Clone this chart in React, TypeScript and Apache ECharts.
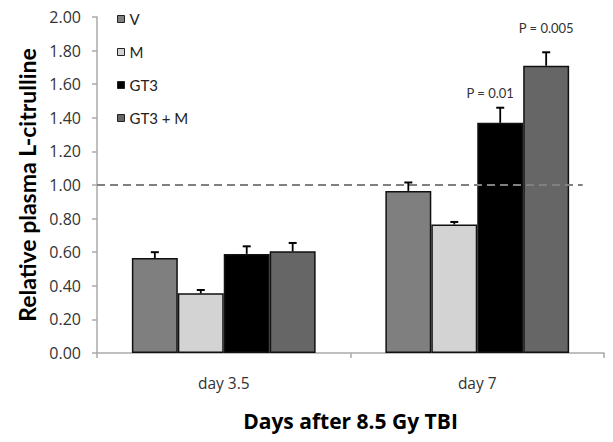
import React, { useEffect, useRef } from "react";
import * as echarts from "echarts";

const categories = ["day 3.5", "day 7"];
const seriesNames = ["V", "M", "GT3", "GT3 + M"];
const seriesColors = ["#7f7f7f", "#d3d3d3", "#000000", "#666666"];
const meanV = [0.565, 0.965];
const meanM = [0.355, 0.765];
const meanGT3 = [0.59, 1.37];
const meanGT3M = [0.605, 1.71];
const errV = [0.035, 0.05];
const errM = [0.02, 0.015];
const errGT3 = [0.045, 0.09];
const errGT3M = [0.05, 0.08];
const pLabels = [
  ["", ""],
  ["", ""],
  ["", "P = 0.01"],
  ["", "P = 0.005"],
];
const pLabelLevel = [
  [0, 0],
  [0, 0],
  [0, 1.55],
  [0, 1.935],
];
const yTicks = [0, 0.2, 0.4, 0.6, 0.8, 1.0, 1.2, 1.4, 1.6, 1.8, 2.0];
const referenceLevel = 1.0;
const referenceSpan = [0, 0.958];

const means = [meanV, meanM, meanGT3, meanGT3M];
const errs = [errV, errM, errGT3, errGT3M];
const CAT_GAP = 0.275;
const FONT = "Lato, 'Open Sans', sans-serif";
const WIDE = "'Open Sans', Lato, sans-serif";

export default function App() {
  const ref = useRef<HTMLDivElement>(null);
  useEffect(() => {
    if (!ref.current) return;
    const chart = echarts.init(ref.current, undefined, { renderer: "svg" });

    const errData: any[] = [];
    means.forEach((arr, s) => {
      arr.forEach((v, c) => {
        errData.push([c, v, errs[s][c], s, pLabels[s][c], pLabelLevel[s][c]]);
      });
    });

    const barSeries = seriesNames.map((name, s) => ({
      name,
      type: "bar",
      data: means[s],
      barGap: "0%",
      barCategoryGap: CAT_GAP * 100 + "%",
      itemStyle: { color: seriesColors[s], borderColor: "#111", borderWidth: 1.5 },
      z: 2,
    }));

    const option: any = {
      animation: false,
      textStyle: { fontFamily: FONT },
      grid: { left: 97, right: 9, top: 17, bottom: 89 },
      legend: {
        orient: "vertical",
        left: 117,
        top: 11,
        padding: 0,
        itemWidth: 7,
        itemHeight: 7,
        itemGap: 17,
        icon: "rect",
        data: seriesNames,
        textStyle: { fontFamily: FONT, fontSize: 15, color: "#222", lineHeight: 16 },
        itemStyle: { borderColor: "#222", borderWidth: 1 },
      },
      xAxis: [
        {
          type: "category",
          data: categories,
          axisLine: { lineStyle: { color: "#aaa", width: 1.5 } },
          axisTick: { show: true, length: 5, lineStyle: { color: "#aaa", width: 1.5 } },
          axisLabel: { fontFamily: WIDE, fontSize: 15.5, color: "#333", margin: 22 },
          name: "Days after 8.5 Gy TBI",
          nameLocation: "middle",
          nameGap: 57,
          nameTextStyle: { fontFamily: WIDE, fontSize: 21, fontWeight: "bold", color: "#000" },
        },
        { type: "value", min: 0, max: 1, show: false },
      ],
      yAxis: {
        type: "value",
        min: 0,
        max: 2,
        interval: 0.2,
        axisLine: { show: true, lineStyle: { color: "#aaa", width: 1.5 } },
        axisTick: { show: true, length: 5, lineStyle: { color: "#aaa", width: 1.5 } },
        splitLine: { show: false },
        axisLabel: {
          fontFamily: WIDE,
          fontSize: 16,
          color: "#333",
          margin: 16,
          formatter: (v: number) => (yTicks.some((t) => Math.abs(t - v) < 1e-6) ? v.toFixed(2) : ""),
        },
        name: "Relative plasma L-citrulline",
        nameLocation: "middle",
        nameGap: 58,
        nameTextStyle: { fontFamily: FONT, fontSize: 23, fontWeight: "bold", color: "#000" },
      },
      series: [
        ...barSeries,
        {
          type: "line",
          xAxisIndex: 1,
          data: referenceSpan.map((x) => [x, referenceLevel]),
          symbol: "none",
          lineStyle: { color: "#808080", width: 2, type: [8, 5] },
          z: 3,
          silent: true,
        },
        {
          type: "custom",
          xAxisIndex: 0,
          data: errData,
          z: 4,
          renderItem: (params: any, api: any) => {
            const c = api.value(0);
            const v = api.value(1);
            const e = api.value(2);
            const s = api.value(3);
            const label = errData[params.dataIndex][4];
            const level = errData[params.dataIndex][5];
            const center = api.coord([c, 0]);
            const catW = api.size([1, 0])[0];
            const bw = (catW * (1 - CAT_GAP)) / seriesNames.length;
            const x = center[0] + (s - (seriesNames.length - 1) / 2) * bw;
            const yTop = api.coord([c, v])[1];
            const yErr = api.coord([c, v + e])[1];
            const children: any[] = [
              {
                type: "line",
                shape: { x1: x, y1: yTop, x2: x, y2: yErr },
                style: { stroke: "#000", lineWidth: 1.8 },
              },
              {
                type: "line",
                shape: { x1: x - 4, y1: yErr, x2: x + 4, y2: yErr },
                style: { stroke: "#000", lineWidth: 2 },
              },
            ];
            if (label) {
              const ly = api.coord([c, level])[1];
              children.push({
                type: "text",
                x: x - (s === 2 ? 10 : 0),
                y: ly,
                style: {
                  text: label,
                  fontFamily: FONT,
                  fontSize: 13,
                  fill: "#333",
                  align: "center",
                  verticalAlign: "middle",
                },
              });
            }
            return { type: "group", children };
          },
        },
      ],
    };
    chart.setOption(option);
    return () => chart.dispose();
  }, []);
  return <div ref={ref} style={{ width: 613, height: 442, position: "absolute", left: 0, top: 0, background: "#fff" }} />;
}
